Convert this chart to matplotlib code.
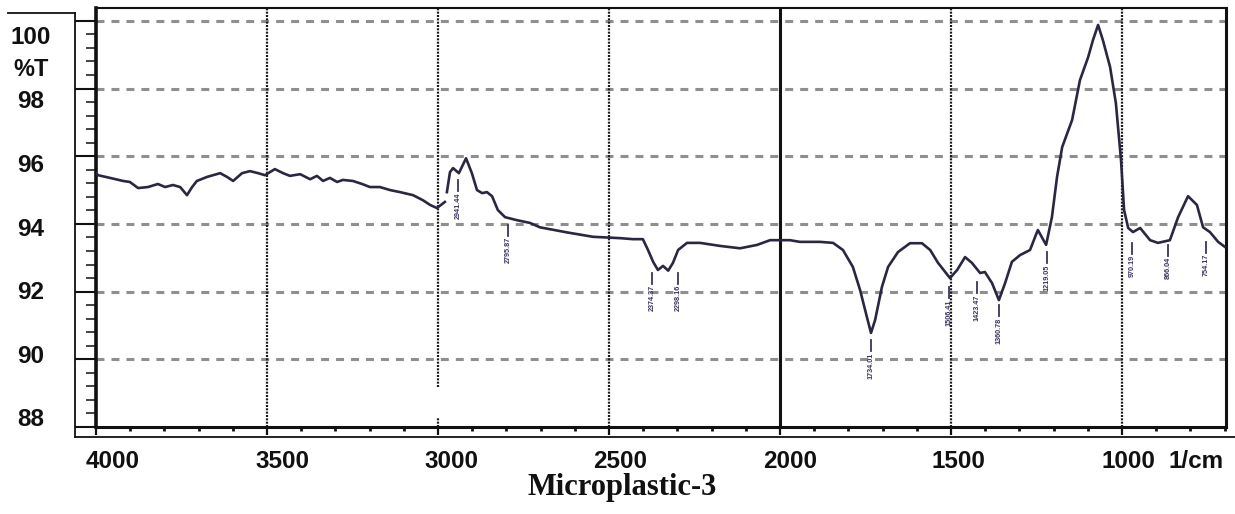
import matplotlib
matplotlib.use("Agg")
import matplotlib.pyplot as plt
from matplotlib.lines import Line2D
import numpy as np

plt.rcParams['font.family'] = ['Liberation Sans', 'DejaVu Sans']

# ---------------- data ----------------
# segment before the small break near 3000 1/cm
wn_a = [4000, 3994, 3959, 3921, 3901, 3877, 3848, 3819, 3798, 3775, 3754, 3734,
        3719, 3705, 3675, 3637, 3617, 3599, 3573, 3550, 3526, 3506, 3477, 3453,
        3433, 3403, 3374, 3354, 3336, 3316, 3295, 3278, 3249, 3222, 3199, 3170,
        3140, 3111, 3073, 3044, 3023, 3003, 2980]
t_a = [95.50, 95.44, 95.36, 95.27, 95.24, 95.06, 95.09, 95.18, 95.09, 95.15, 95.09, 94.85,
       95.09, 95.27, 95.39, 95.50, 95.39, 95.27, 95.50, 95.56, 95.50, 95.44, 95.62, 95.50,
       95.42, 95.47, 95.32, 95.42, 95.27, 95.36, 95.24, 95.30, 95.27, 95.18, 95.09, 95.09,
       95.00, 94.94, 94.85, 94.70, 94.56, 94.47, 94.65]

wn_b = [2974, 2965, 2956, 2939, 2918, 2901, 2886, 2871, 2857, 2842, 2825, 2804,
        2769, 2731, 2702, 2623, 2547, 2468, 2430, 2401, 2386, 2371, 2357, 2342,
        2327, 2313, 2298, 2272, 2234, 2175, 2117, 2067, 2029, 2000, 1971, 1942,
        1883, 1845, 1816, 1787, 1766, 1746, 1734, 1722, 1702, 1684, 1655, 1620,
        1585, 1561, 1538, 1503, 1482, 1459, 1439, 1415, 1401, 1380, 1360, 1342,
        1322, 1298, 1269, 1254, 1246, 1222, 1205, 1190, 1175, 1146, 1123, 1099,
        1085, 1070, 1056, 1035, 1018, 1003, 994, 982, 968, 947, 918, 895,
        860, 836, 807, 781, 763, 743, 719, 699]
t_b = [94.94, 95.53, 95.65, 95.50, 95.94, 95.50, 95.00, 94.91, 94.94, 94.82, 94.41, 94.20,
       94.11, 94.03, 93.90, 93.75, 93.62, 93.58, 93.55, 93.55, 93.23, 92.88, 92.64, 92.76,
       92.62, 92.85, 93.23, 93.44, 93.44, 93.35, 93.28, 93.38, 93.52, 93.52, 93.52, 93.47,
       93.47, 93.44, 93.23, 92.73, 92.05, 91.25, 90.78, 91.16, 92.14, 92.73, 93.17, 93.43,
       93.43, 93.23, 92.85, 92.40, 92.64, 93.02, 92.85, 92.55, 92.58, 92.25, 91.75, 92.25,
       92.88, 93.08, 93.23, 93.62, 93.82, 93.38, 94.20, 95.39, 96.27, 97.07, 98.25, 98.93,
       99.43, 99.88, 99.43, 98.64, 97.57, 95.89, 94.41, 93.88, 93.76, 93.88, 93.52, 93.44,
       93.52, 94.20, 94.82, 94.56, 93.90, 93.76, 93.47, 93.32]

# peak-pick labels
peak_wn = [2941, 2795, 2374, 2298, 1734, 1506, 1424, 1360, 1219, 971, 866, 754]
peak_top = [95.30, 93.97, 92.55, 92.55, 90.57, 92.14, 92.28, 91.60, 93.17, 93.44, 93.38, 93.47]
peak_txt = ["2941.44", "2795.87", "2374.37", "2298.16", "1734.01", "1506.41",
            "1423.47", "1360.78", "1219.05", "970.19", "866.04", "754.17"]

y_ticks = [88, 90, 92, 94, 96, 98, 100]
x_ticks = [4000, 3500, 3000, 2500, 2000, 1500, 1000]
x_grid_dotted = [3500, 2500, 1500, 1000]
x_grid_broken = [3000]
x_grid_solid = [2000]

# ---------------- figure ----------------
W, H = 1235, 514
fig = plt.figure(figsize=(W / 100, H / 100), dpi=100)

ax = fig.add_axes([96 / W, 1 - 427 / H, (1226 - 96) / W, (427 - 8) / H])
ax.set_xlim(4000, 696)
ax.set_ylim(88, 100.38)

for v in y_ticks[1:]:
    ax.axhline(v, color='#8f8f8f', lw=2.2, ls=(0, (2.6, 2.3)), zorder=1)
dot = dict(color='#1a1a1a', lw=1.6, ls=(0, (0.9, 0.6)), zorder=1)
for v in x_grid_dotted:
    ax.axvline(v, **dot)
for v in x_grid_broken:
    ax.vlines(v, 89.18, 100.38, **dot)
    ax.vlines(v, 88.0, 88.27, **dot)
for v in x_grid_solid:
    ax.axvline(v, color='#111111', lw=2.2, zorder=1)

line_col = '#2b2742'
ax.plot(wn_a, t_a, color=line_col, lw=1.9, solid_joinstyle='round', zorder=3)
ax.plot(wn_b, t_b, color=line_col, lw=1.9, solid_joinstyle='round', zorder=3)

lab_col = '#3a3460'
for w, top, s in zip(peak_wn, peak_top, peak_txt):
    ax.plot([w, w], [top, top - 0.33], color=lab_col, lw=1.3, zorder=3)
    ax.text(w, top - 0.36, s, rotation=90, ha='center', va='top',
            fontsize=5.2, fontweight='bold', color=lab_col, zorder=3)

ax.set_yticks(y_ticks)
ax.set_yticks(np.arange(88, 100.01, 0.4), minor=True)
ax.set_xticks(x_ticks)
ax.set_xticks(np.arange(4000, 699, -100), minor=True)
ax.tick_params(axis='y', which='major', direction='out', length=15, width=1.5,
               labelleft=False, color='#111111')
ax.tick_params(axis='y', which='minor', direction='out', length=7, width=1.1,
               color='#111111')
ax.tick_params(axis='x', which='major', direction='out', length=6, width=1.6,
               labelbottom=False, color='#111111')
ax.tick_params(axis='x', which='minor', direction='out', length=3, width=2.0,
               color='#111111')
for side, lw in [('left', 2.6), ('right', 2.2), ('top', 1.5), ('bottom', 2.2)]:
    ax.spines[side].set_linewidth(lw)
    ax.spines[side].set_color('#111111')

# y labels (drawn on a label axis, as in the reference they are slightly compressed)
ax_yl = fig.add_axes([0, 1 - 420 / H, 62 / W, (420 - 38) / H])
ax_yl.set_xlim(0, 1)
ax_yl.set_ylim(88, 100)
ax_yl.axis('off')
for v in y_ticks:
    ax_yl.text(0.5, v, str(v), ha='center', va='center', fontsize=17.5,
               fontweight='bold', color='#111111')
ax_yl.text(0.5, 99.0, '%T', ha='center', va='center', fontsize=17,
           fontweight='bold', color='#111111')

# x labels
ax_xl = fig.add_axes([113 / W, 1 - 482 / H, (1128 - 113) / W, 40 / H])
ax_xl.set_xlim(4000, 1000)
ax_xl.set_ylim(0, 1)
ax_xl.axis('off')
for v in x_ticks:
    ax_xl.text(v, 0.5, str(v), ha='center', va='center', fontsize=17.5,
               fontweight='bold', color='#111111', clip_on=False)
ax_xl.annotate('1/cm', xy=(1000, 0.5), xytext=(40, 0), textcoords='offset pixels',
               ha='left', va='center', fontsize=17.5, fontweight='bold',
               color='#111111', annotation_clip=False)

# outer frame lines
fr = dict(color='#111111', lw=1.3)
fig.add_artist(Line2D([8 / W, 75 / W], [1 - 13 / H, 1 - 13 / H], **fr))
fig.add_artist(Line2D([75 / W, 75 / W], [1 - 13 / H, 1 - 437 / H], **fr))
fig.add_artist(Line2D([75 / W, 1 - 0.5 / W], [1 - 437 / H, 1 - 437 / H], **fr))

fig.text(622 / W, 1 - 487 / H, 'Microplastic-3', ha='center', va='center',
         fontsize=22, fontweight='bold', family='Liberation Serif', color='#111111')

fig.savefig('out.png', dpi=100)
